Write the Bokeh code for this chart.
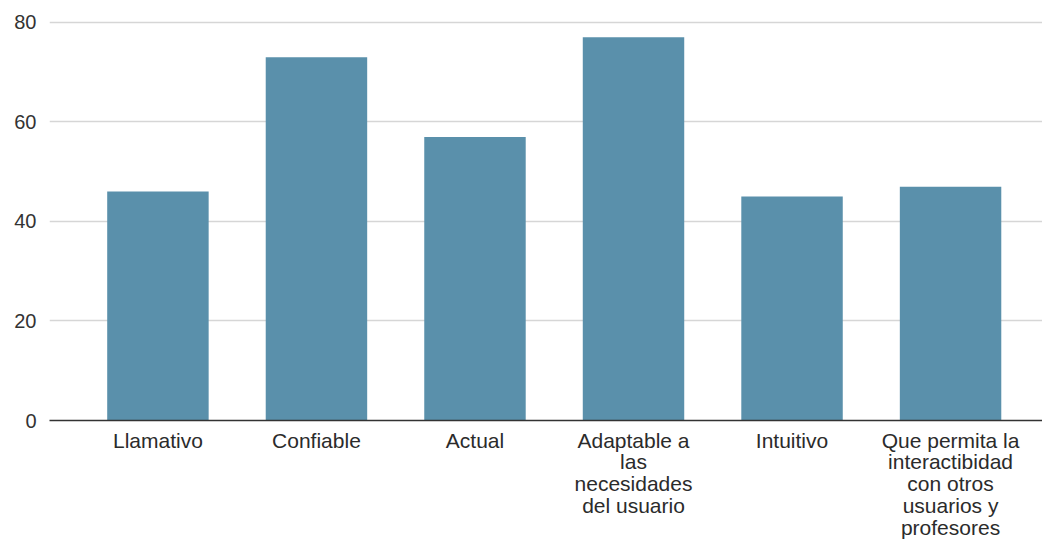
from bokeh.plotting import figure
from bokeh.models import Range1d, FixedTicker
from bokeh.embed import file_html
from bokeh.resources import INLINE

categories = ["Llamativo", "Confiable", "Actual", "Adaptable a\nlas\nnecesidades\ndel usuario",
              "Intuitivo", "Que permita la\ninteractibidad\ncon otros\nusuarios y\nprofesores"]
values = [46, 73, 57, 77, 45, 47]
y_ticks = [0, 20, 40, 60, 80]

positions = list(range(len(categories)))

p = figure(frame_width=993, frame_height=411, output_backend="svg", toolbar_location=None,
           x_range=Range1d(-0.684, 5.58), y_range=Range1d(0, 82.6),
           min_border_left=49, min_border_right=0, min_border_top=9, min_border_bottom=0)
p.outline_line_color = None
p.background_fill_color = "white"
p.border_fill_color = "white"

p.vbar(x=positions, top=values, width=0.64, color="#5a90ab", line_color=None)

p.xaxis.ticker = FixedTicker(ticks=positions)
p.xaxis.major_label_overrides = {i: c for i, c in enumerate(categories)}
p.xaxis.major_tick_line_color = None
p.xaxis.major_tick_out = 0
p.xaxis.major_tick_in = 0
p.xaxis.minor_tick_line_color = None
p.xaxis.axis_line_color = "#333333"
p.xaxis.axis_line_width = 1.5
p.xaxis.major_label_text_font = "Liberation Sans"
p.xaxis.major_label_text_font_size = "21px"
p.xaxis.major_label_text_color = "#2b2b2b"
p.xaxis.major_label_standoff = 8
p.xaxis.major_label_text_line_height = 0.95
p.xgrid.grid_line_color = None

p.yaxis.ticker = FixedTicker(ticks=y_ticks)
p.yaxis.axis_line_color = None
p.yaxis.major_tick_line_color = None
p.yaxis.major_tick_out = 0
p.yaxis.major_tick_in = 0
p.yaxis.minor_tick_line_color = None
p.yaxis.major_label_text_font = "Liberation Sans"
p.yaxis.major_label_text_font_size = "20px"
p.yaxis.major_label_text_color = "#333333"
p.yaxis.major_label_standoff = 13
p.ygrid.grid_line_color = "#d6d6d6"
p.ygrid.grid_line_width = 1.5
p.ygrid.ticker = FixedTicker(ticks=y_ticks)

open("out.html", "w").write(file_html(p, INLINE))
